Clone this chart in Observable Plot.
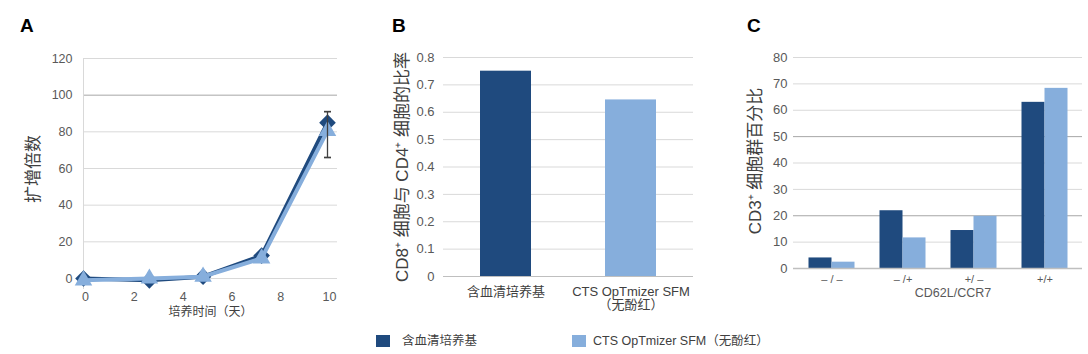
<!DOCTYPE html>
<html>
<head>
<meta charset="utf-8">
<script src="https://cdn.jsdelivr.net/npm/d3@7"></script>
<script src="https://cdn.jsdelivr.net/npm/@observablehq/plot@0.6"></script>
<style>
  html, body { margin: 0; padding: 0; background: #fff; }
  body { width: 1088px; height: 354px; position: relative; overflow: hidden;
         font-family: "Liberation Sans", "Noto Sans CJK SC", sans-serif; }
  .panel { position: absolute; top: 0; }
  .letter { position: absolute; font-weight: bold; font-size: 19px; color: #000; line-height: 1; }
  .legend { position: absolute; top: 334px; font-size: 12.5px; color: #404040; line-height: 14px; }
  .legend .sw { position: absolute; width: 14px; height: 12px; top: 1px; }
  .legend .lb { position: absolute; top: 0; white-space: nowrap; }
</style>
</head>
<body>
<div class="letter" style="left:20px;top:16px">A</div>
<div class="letter" style="left:392px;top:16px">B</div>
<div class="letter" style="left:747px;top:16px">C</div>
<div id="a" class="panel" style="left:0px"></div>
<div id="b" class="panel" style="left:360px"></div>
<div id="c" class="panel" style="left:720px"></div>
<div id="legend"></div>
<script>
// ---- data ----
const seriesNames = ["含血清培养基", "CTS OpTmizer SFM（无酚红）"];
const seriesColors = ["#1f4a7e", "#86aedc"];

// Panel A: fold expansion over culture days
const days = [0, 2.7, 4.9, 7.3, 10];
const serumFold = [0, -1, 1, 12.5, 85];
const ctsFold = [-1, 0, 1, 11, 80.5];
const errorDay = [10];
const errorLow = [66];
const errorHigh = [91];
const ticksAX = [0, 2, 4, 6, 8, 10];
const ticksAY = [0, 20, 40, 60, 80, 100, 120];

// Panel B: CD8+/CD4+ ratio
const ratioCategories = ["含血清培养基", "CTS OpTmizer SFM\n（无酚红）"];
const ratioValues = [0.75, 0.645];
const ticksBY = [0, 0.1, 0.2, 0.3, 0.4, 0.5, 0.6, 0.7, 0.8];

// Panel C: CD62L/CCR7 subsets (% of CD3+)
const subsetCategories = ["– / –", "– /+", "+/ –", "+/+"];
const serumPct = [4, 21.9, 14.4, 63];
const ctsPct = [2.4, 11.6, 19.8, 68.3];
const ticksCY = [0, 10, 20, 30, 40, 50, 60, 70, 80];

// ---- shared styling ----
const FONT = '"Liberation Sans", "Noto Sans CJK SC", sans-serif';
const baseStyle = {fontFamily: FONT, fontSize: "12.5px", color: "#595959", background: "transparent", overflow: "visible"};
const gridLight = "#d9d9d9";
const gridDark = "#a6a6a6";
const labelColor = "#404040";

// ---- Panel A ----
const serumA = days.map((d, i) => ({day: d, fold: serumFold[i]}));
const ctsA = days.map((d, i) => ({day: d, fold: ctsFold[i]}));
const errA = errorDay.map((d, i) => ({day: d, lo: errorLow[i], hi: errorHigh[i]}));

const plotA = Plot.plot({
  width: 360, height: 330,
  marginLeft: 83, marginRight: 23, marginTop: 58, marginBottom: 41,
  style: baseStyle,
  x: {domain: [0, 10.41]},
  y: {domain: [-6, 120]},
  marks: [
    Plot.ruleY(ticksAY.filter(t => t !== 100), {stroke: gridLight}),
    Plot.ruleY([100], {stroke: gridDark}),
    Plot.ruleX([0], {stroke: gridLight}),
    Plot.axisY({ticks: ticksAY, tickSize: 0, tickPadding: 11, label: null, fontSize: 12.5, fill: "#595959"}),
    Plot.axisX({ticks: ticksAX, tickSize: 0, tickPadding: 3, label: null, fontSize: 12.5, fill: "#595959", dx: 2}),
    Plot.line(serumA, {x: "day", y: "fold", stroke: seriesColors[0], strokeWidth: 4}),
    Plot.dot(serumA, {x: "day", y: "fold", fill: seriesColors[0], symbol: "diamond2", r: 7.5}),
    Plot.line(ctsA, {x: "day", y: "fold", stroke: seriesColors[1], strokeWidth: 4}),
    Plot.dot(ctsA, {x: "day", y: "fold", fill: seriesColors[1], symbol: "triangle", r: 6.5}),
    Plot.link(errA, {x1: "day", x2: "day", y1: "lo", y2: "hi", stroke: "#404040", strokeWidth: 1.3, markerStart: "tick", markerEnd: "tick"}),
    Plot.text(["扩增倍数"], {text: d => d, frameAnchor: "left", textAnchor: "middle", dx: -50, dy: -5, rotate: -90, fontSize: 17, fill: labelColor}),
    Plot.text(["培养时间（天）"], {text: d => d, frameAnchor: "bottom", dy: 26, fontSize: 12, fill: labelColor})
  ]
});
document.getElementById("a").append(plotA);

// ---- Panel B ----
const ratioData = ratioCategories.map((c, i) => ({cat: c, value: ratioValues[i], series: seriesNames[i]}));
const plotB = Plot.plot({
  width: 360, height: 330,
  marginLeft: 83, marginRight: 27, marginTop: 57, marginBottom: 54,
  style: baseStyle,
  x: {type: "band", domain: ratioCategories, paddingInner: 0.592, paddingOuter: 0.296},
  y: {domain: [0, 0.8]},
  color: {domain: seriesNames, range: seriesColors},
  marks: [
    Plot.ruleY(ticksBY.filter(t => t > 0), {stroke: gridLight}),
    Plot.ruleY([0], {stroke: "#bfbfbf"}),
    Plot.axisY({ticks: ticksBY, tickSize: 0, tickPadding: 9, label: null, fontSize: 13, fill: "#595959", line: true, stroke: gridLight, tickFormat: d => d === 0 ? "0" : d3.format(".1f")(d)}),
    Plot.barY(ratioData, {x: "cat", y: "value", fill: "series"}),
    Plot.axisX({tickSize: 0, tickPadding: 10, label: null, fontSize: 13, fill: labelColor, lineHeight: 1.0}),
    Plot.text(["CD8⁺ 细胞与 CD4⁺ 细胞的比率"], {text: d => d, frameAnchor: "left", textAnchor: "middle", dx: -41, dy: 0, rotate: -90, fontSize: 17, fill: labelColor})
  ]
});
document.getElementById("b").append(plotB);

// ---- Panel C ----
const serumC = subsetCategories.map((c, i) => ({cat: c, value: serumPct[i]}));
const ctsC = subsetCategories.map((c, i) => ({cat: c, value: ctsPct[i]}));
const plotC = Plot.plot({
  width: 368, height: 330,
  marginLeft: 73, marginRight: 6, marginTop: 57, marginBottom: 62,
  style: baseStyle,
  x: {type: "band", domain: subsetCategories, paddingInner: 0.679, paddingOuter: 0.355},
  y: {domain: [0, 80]},
  marks: [
    Plot.ruleY(ticksCY.filter(t => t > 0 && t !== 20 && t !== 50), {stroke: gridLight}),
    Plot.ruleY([20, 50], {stroke: gridDark}),
    Plot.axisY({ticks: ticksCY, tickSize: 0, tickPadding: 6, label: null, fontSize: 13, fill: "#595959", line: true, stroke: gridLight}),
    Plot.barY(serumC, {x: "cat", y: "value", fill: seriesColors[0], dx: -11.5}),
    Plot.barY(ctsC, {x: "cat", y: "value", fill: seriesColors[1], dx: 11.5}),
    Plot.ruleY([0], {stroke: "#bfbfbf", strokeWidth: 1.5}),
    Plot.axisX({tickSize: 0, tickPadding: 7, label: null, fontSize: 11, fill: "#595959"}),
    Plot.text(["CD62L/CCR7"], {text: d => d, frameAnchor: "bottom", dx: 15, dy: 28, fontSize: 12.5, fill: "#595959"}),
    Plot.text(["CD3⁺ 细胞群百分比"], {text: d => d, frameAnchor: "left", textAnchor: "middle", dx: -38, dy: -2, rotate: -90, fontSize: 17, fill: labelColor})
  ]
});
document.getElementById("c").append(plotC);

// ---- Legend ----
const legend = document.getElementById("legend");
const legendX = [376, 572];
seriesNames.forEach((name, i) => {
  const item = document.createElement("div");
  item.className = "legend";
  item.style.left = legendX[i] + "px";
  item.innerHTML = `<span class="sw" style="left:0;background:${seriesColors[i]}"></span><span class="lb" style="left:${i === 0 ? 26 : 21}px">${name}</span>`;
  legend.append(item);
});
</script>
</body>
</html>
